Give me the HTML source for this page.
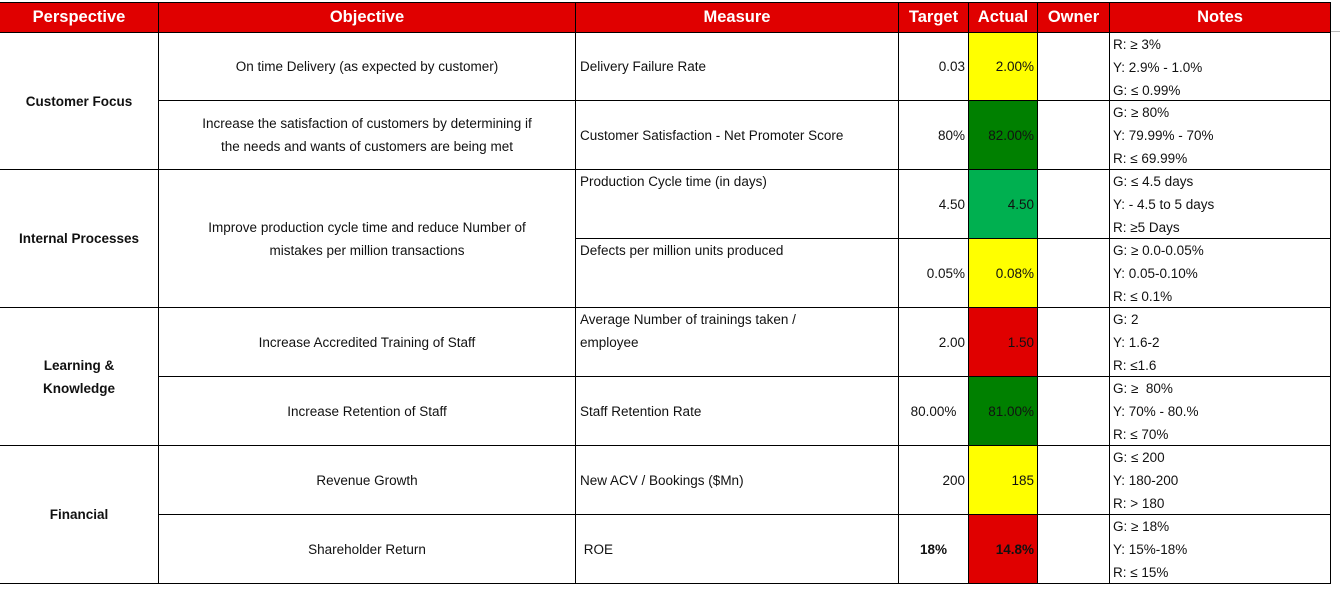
<!DOCTYPE html>
<html><head><meta charset="utf-8">
<style>
body{margin:0;width:1340px;height:594px;background:#fff;font-family:"Liberation Sans",sans-serif;font-size:13.5px;color:#111;position:relative;overflow:hidden}
.c{position:absolute;box-sizing:border-box;display:flex;align-items:center;justify-content:center;text-align:center;line-height:23px}
.h{background:#e00000;color:#fff;font-weight:bold;font-size:16.5px;top:3px;height:29px}
.l{justify-content:flex-start;text-align:left;padding-left:4px}
.r{justify-content:flex-end;padding-right:3px}
.t{align-items:flex-start}
.b{font-weight:bold}
.vl{position:absolute;width:1px;background:#000}
.hl{position:absolute;height:1px;background:#000}
.n{position:absolute;left:1113px;line-height:23px}
</style></head><body>
<div class="hl" style="left:0;top:2px;width:1331px"></div>
<div class="c h" style="left:0;width:158px">Perspective</div>
<div class="c h" style="left:159px;width:416px">Objective</div>
<div class="c h" style="left:576px;width:322px">Measure</div>
<div class="c h" style="left:899px;width:69px">Target</div>
<div class="c h" style="left:969px;width:68px">Actual</div>
<div class="c h" style="left:1038px;width:71px">Owner</div>
<div class="c h" style="left:1110px;width:220px">Notes</div>
<div class="hl" style="left:1330px;top:31px;width:10px;background:#bbb"></div>

<!-- actual cell fills -->
<div class="c" style="left:969px;top:33px;width:68px;height:67px;background:#ffff00"></div>
<div class="c" style="left:969px;top:101px;width:68px;height:68px;background:#008000"></div>
<div class="c" style="left:969px;top:170px;width:68px;height:68px;background:#00b050"></div>
<div class="c" style="left:969px;top:239px;width:68px;height:68px;background:#ffff00"></div>
<div class="c" style="left:969px;top:308px;width:68px;height:68px;background:#e00000"></div>
<div class="c" style="left:969px;top:377px;width:68px;height:68px;background:#008000"></div>
<div class="c" style="left:969px;top:446px;width:68px;height:68px;background:#ffff00"></div>
<div class="c" style="left:969px;top:515px;width:68px;height:68px;background:#e00000"></div>

<!-- grid lines -->
<div class="vl" style="left:158px;top:2px;height:582px"></div>
<div class="vl" style="left:575px;top:2px;height:582px"></div>
<div class="vl" style="left:898px;top:2px;height:582px"></div>
<div class="vl" style="left:968px;top:2px;height:582px"></div>
<div class="vl" style="left:1037px;top:2px;height:582px"></div>
<div class="vl" style="left:1109px;top:2px;height:582px"></div>
<div class="vl" style="left:1330px;top:2px;height:582px"></div>
<div class="hl" style="left:0;top:32px;width:1331px"></div>
<div class="hl" style="left:158px;top:100px;width:1173px"></div>
<div class="hl" style="left:0;top:169px;width:1331px"></div>
<div class="hl" style="left:575px;top:238px;width:756px"></div>
<div class="hl" style="left:0;top:307px;width:1331px"></div>
<div class="hl" style="left:158px;top:376px;width:1173px"></div>
<div class="hl" style="left:0;top:445px;width:1331px"></div>
<div class="hl" style="left:158px;top:514px;width:1173px"></div>
<div class="hl" style="left:0;top:583px;width:1331px"></div>

<!-- perspectives -->
<div class="c b" style="left:0;top:33px;width:158px;height:136px">Customer Focus</div>
<div class="c b" style="left:0;top:170px;width:158px;height:137px">Internal Processes</div>
<div class="c b" style="left:0;top:308px;width:158px;height:137px">Learning &amp;<br>Knowledge</div>
<div class="c b" style="left:0;top:446px;width:158px;height:137px">Financial</div>

<!-- objectives -->
<div class="c" style="left:159px;top:33px;width:416px;height:67px">On time Delivery (as expected by customer)</div>
<div class="c" style="left:159px;top:101px;width:416px;height:68px">Increase the satisfaction of customers by determining if<br>the needs and wants of customers are being met</div>
<div class="c" style="left:159px;top:170px;width:416px;height:137px">Improve production cycle time and reduce Number of<br>mistakes per million transactions</div>
<div class="c" style="left:159px;top:308px;width:416px;height:68px">Increase Accredited Training of Staff</div>
<div class="c" style="left:159px;top:377px;width:416px;height:68px">Increase Retention of Staff</div>
<div class="c" style="left:159px;top:446px;width:416px;height:68px">Revenue Growth</div>
<div class="c" style="left:159px;top:515px;width:416px;height:68px">Shareholder Return</div>

<!-- measures -->
<div class="c l" style="left:576px;top:33px;width:322px;height:67px">Delivery Failure Rate</div>
<div class="c l" style="left:576px;top:101px;width:322px;height:68px">Customer Satisfaction - Net Promoter Score</div>
<div class="c l t" style="left:576px;top:170px;width:322px;height:68px">Production Cycle time (in days)</div>
<div class="c l t" style="left:576px;top:239px;width:322px;height:68px">Defects per million units produced</div>
<div class="c l t" style="left:576px;top:308px;width:322px;height:68px">Average Number of trainings taken /<br>employee</div>
<div class="c l" style="left:576px;top:377px;width:322px;height:68px">Staff Retention Rate</div>
<div class="c l" style="left:576px;top:446px;width:322px;height:68px">New ACV / Bookings ($Mn)</div>
<div class="c l" style="left:576px;top:515px;width:322px;height:68px">&nbsp;ROE</div>

<!-- targets -->
<div class="c r" style="left:899px;top:33px;width:69px;height:67px">0.03</div>
<div class="c r" style="left:899px;top:101px;width:69px;height:68px">80%</div>
<div class="c r" style="left:899px;top:170px;width:69px;height:68px">4.50</div>
<div class="c r" style="left:899px;top:239px;width:69px;height:68px">0.05%</div>
<div class="c r" style="left:899px;top:308px;width:69px;height:68px">2.00</div>
<div class="c" style="left:899px;top:377px;width:69px;height:68px">80.00%</div>
<div class="c r" style="left:899px;top:446px;width:69px;height:68px">200</div>
<div class="c b" style="left:899px;top:515px;width:69px;height:68px">18%</div>

<!-- actuals -->
<div class="c r" style="left:969px;top:33px;width:68px;height:67px">2.00%</div>
<div class="c r" style="left:969px;top:101px;width:68px;height:68px">82.00%</div>
<div class="c r" style="left:969px;top:170px;width:68px;height:68px">4.50</div>
<div class="c r" style="left:969px;top:239px;width:68px;height:68px">0.08%</div>
<div class="c r" style="left:969px;top:308px;width:68px;height:68px">1.50</div>
<div class="c r" style="left:969px;top:377px;width:68px;height:68px">81.00%</div>
<div class="c r" style="left:969px;top:446px;width:68px;height:68px">185</div>
<div class="c r b" style="left:969px;top:515px;width:68px;height:68px">14.8%</div>

<!-- notes -->
<div class="n" style="top:33px">R: ≥ 3%<br>Y: 2.9% - 1.0%<br>G: ≤ 0.99%</div>
<div class="n" style="top:101px">G: ≥ 80%<br>Y: 79.99% - 70%<br>R: ≤ 69.99%</div>
<div class="n" style="top:170px">G: ≤ 4.5 days<br>Y: - 4.5 to 5 days<br>R: ≥5 Days</div>
<div class="n" style="top:239px">G: ≥ 0.0-0.05%<br>Y: 0.05-0.10%<br>R: ≤ 0.1%</div>
<div class="n" style="top:308px">G: 2<br>Y: 1.6-2<br>R: ≤1.6</div>
<div class="n" style="top:377px">G: ≥&nbsp; 80%<br>Y: 70% - 80.%<br>R: ≤ 70%</div>
<div class="n" style="top:446px">G: ≤ 200<br>Y: 180-200<br>R: &gt; 180</div>
<div class="n" style="top:515px">G: ≥ 18%<br>Y: 15%-18%<br>R: ≤ 15%</div>
</body></html>
